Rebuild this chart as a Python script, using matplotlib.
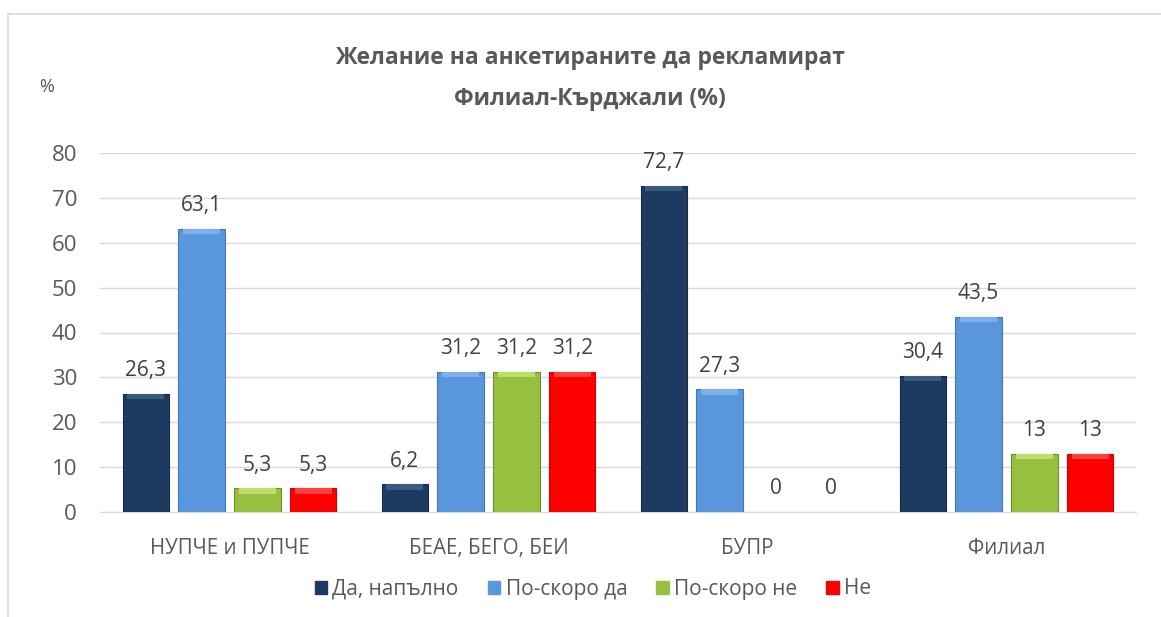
import matplotlib.pyplot as plt
import numpy as np
from matplotlib.lines import Line2D

plt.rcParams['font.family'] = ['Open Sans', 'DejaVu Sans']

categories = ['НУПЧЕ и ПУПЧЕ', 'БЕАЕ, БЕГО, БЕИ', 'БУПР', 'Филиал']
series = ['Да, напълно', 'По-скоро да', 'По-скоро не', 'Не']
da_napalno = [26.3, 6.2, 72.7, 30.4]
po_skoro_da = [63.1, 31.2, 27.3, 43.5]
po_skoro_ne = [5.3, 31.2, 0, 13]
ne = [5.3, 31.2, 0, 13]
labels = [['26,3', '6,2', '72,7', '30,4'],
          ['63,1', '31,2', '27,3', '43,5'],
          ['5,3', '31,2', '0', '13'],
          ['5,3', '31,2', '0', '13']]

colors = ['#1d3a60', '#5a96dc', '#98c040', '#fe0000']
tops = ['#3a5a82', '#7cb0ec', '#bade68', '#ff4040']
edges = ['#142a48', '#4178b8', '#6d8c2c', '#c80000']

fig = plt.figure(figsize=(11.61, 6.17), dpi=100)
ax = fig.add_axes([100 / 1161, 1 - 512 / 617, 1036 / 1161, 359 / 617])

x = np.arange(len(categories))
w = 0.178
step = 0.216
grey = '#595959'

for i, vals in enumerate([da_napalno, po_skoro_da, po_skoro_ne, ne]):
    pos = x + (i - 1.5) * step
    lw = [0.8 if v > 0 else 0 for v in vals]
    ax.bar(pos, vals, w, color=colors[i], edgecolor=edges[i], linewidth=lw, zorder=3)
    # bevel highlight at the top of each bar
    hv = [1.2 if v > 0 else 0 for v in vals]
    ax.bar(pos, hv, w * 0.82, bottom=np.array(vals) - np.array(hv),
           color=tops[i], linewidth=0, zorder=4)
    for p, v, t in zip(pos, vals, labels[i]):
        ax.text(p, v + 2.8, t, ha='center', va='bottom', fontsize=15, color='#404040')

ax.set_xlim(-0.5, 3.5)
ax.set_ylim(0, 80)
ax.set_yticks(range(0, 81, 10))
ax.set_xticks(x)
ax.set_xticklabels(categories)
ax.tick_params(axis='x', length=0, labelsize=14.8, labelcolor=grey, pad=19)
ax.tick_params(axis='y', length=0, labelsize=16, labelcolor=grey, pad=16.5)
ax.grid(axis='y', color='#d9d9d9', linewidth=1, zorder=0)
for s in ['top', 'right', 'left']:
    ax.spines[s].set_visible(False)
ax.spines['bottom'].set_color('#d9d9d9')

fig.text(590 / 1161, 1 - 58 / 617, 'Желание на анкетираните да рекламират',
         ha='center', va='center', fontsize=16.5, fontweight='bold', color=grey)
fig.text(590 / 1161, 1 - 99 / 617, 'Филиал-Кърджали (%)',
         ha='center', va='center', fontsize=16.5, fontweight='bold', color=grey)
fig.text(47 / 1161, 1 - 87 / 617, '%', ha='center', va='center', fontsize=13, color=grey)

# chart frame (left and top edges visible)
fig.add_artist(Line2D([8 / 1161, 8 / 1161], [0, 1 - 14 / 617], color='#d9d9d9', lw=1.2))
fig.add_artist(Line2D([8 / 1161, 1], [1 - 14 / 617, 1 - 14 / 617], color='#d9d9d9', lw=1.2))

handles = [plt.Rectangle((0, 0), 1, 1, color=c) for c in colors]
fig.legend(handles, series, loc='center', bbox_to_anchor=(593 / 1161, 1 - 589 / 617),
           ncol=4, frameon=False, fontsize=15, handlelength=0.6, handleheight=0.6,
           handletextpad=0.25, columnspacing=1.4, labelcolor=grey)

fig.savefig('out.png', dpi=100)
